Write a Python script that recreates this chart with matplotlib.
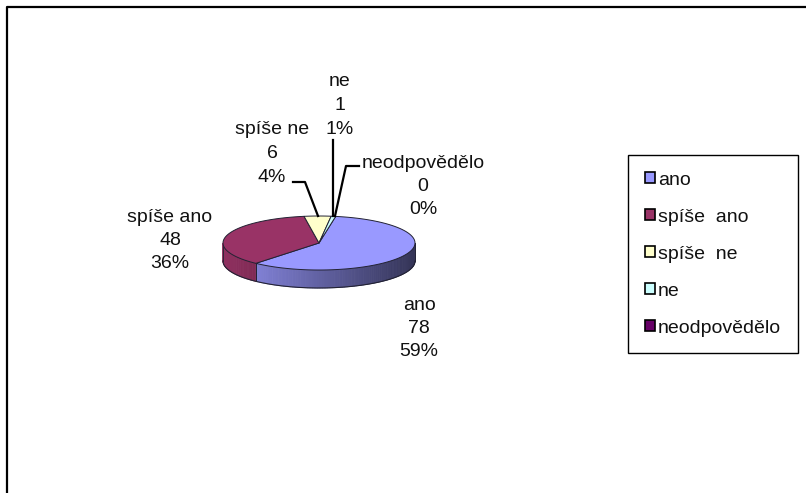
import numpy as np
import matplotlib
matplotlib.use('Agg')
import matplotlib.pyplot as plt
from matplotlib.patches import Polygon, Patch
from matplotlib.colors import to_rgb

# ---- data ----
categories = ['ano', 'spíše ano', 'spíše ne', 'ne', 'neodpovědělo']
legend_labels = ['ano', 'spíše  ano', 'spíše  ne', 'ne', 'neodpovědělo']
values = [78, 48, 6, 1, 0]
percent_labels = ['59%', '36%', '4%', '1%', '0%']
colors = ['#9999FF', '#993366', '#FFFFCC', '#CCFFFF', '#660066']

plt.rcParams['font.family'] = ['Liberation Sans', 'DejaVu Sans']
fig = plt.figure(figsize=(8.06, 4.93), dpi=100)
ax = fig.add_axes([0, 0, 1, 1])
ax.set_xlim(0, 806)
ax.set_ylim(493, 0)
ax.axis('off')

# chart frame (top and left edges visible)
ax.plot([7, 7, 806], [493, 7, 7], color='black', lw=1.6, solid_capstyle='butt')

# ---- 3D-look pie ----
cx, cy, a, b, depth = 319, 243, 96, 27, 18
start = 80.0
total = float(sum(values))


def pt(th):
    r = np.radians(th)
    return cx + a * np.cos(r), cy - b * np.sin(r)


angles = []
cur = start
for v in values:
    span = v / total * 360.0
    angles.append((cur - span, cur))
    cur -= span


def shade(col, th):
    f = 0.64 - 0.30 * np.cos(np.radians(th))
    f = min(max(f, 0.3), 1.0)
    r, g, bb = to_rgb(col)
    return (r * f, g * f, bb * f)


# side walls (front half)
for (lo, hi), col, v in zip(angles, colors, values):
    if v == 0:
        continue
    for k in (-720, -360, 0, 360):
        l = max(lo, -180 + k)
        h = min(hi, k)
        if h <= l:
            continue
        ths = np.linspace(l, h, max(2, int((h - l) / 1.5) + 2))
        for t1, t2 in zip(ths[:-1], ths[1:]):
            x1, y1 = pt(t1)
            x2, y2 = pt(t2)
            c = shade(col, (t1 + t2) / 2 - k)
            ax.add_patch(Polygon([(x1, y1), (x2, y2), (x2, y2 + depth), (x1, y1 + depth)],
                                 closed=True, facecolor=c, edgecolor=c, lw=0.6, zorder=2))
        for t in (l, h):
            x, y = pt(t)
            ax.plot([x, x], [y, y + depth], color='#222233', lw=0.6, zorder=3)

# side bottom outline
ths = np.linspace(-180, 0, 200)
xs, ys = pt(ths)
ax.plot(xs, ys + depth, color='#222233', lw=0.8, zorder=3)

# top faces
for (lo, hi), col, v in zip(angles, colors, values):
    if v == 0:
        continue
    ths = np.linspace(lo, hi, max(3, int((hi - lo) / 1.0) + 2))
    xs, ys = pt(ths)
    verts = [(cx, cy)] + list(zip(xs, ys))
    ax.add_patch(Polygon(verts, closed=True, facecolor=col, edgecolor='#222233',
                         lw=0.7, zorder=4, joinstyle='round'))

# ---- data labels ----
label_pos = {'ano': (419, 305), 'spíše ano': (170, 217), 'spíše ne': (272, 130),
             'ne': (340, 82), 'neodpovědělo': (423, 163)}
line_gap = 23.5
for cat, v, p in zip(categories, values, percent_labels):
    x, y = label_pos[cat]
    for i, s in enumerate([cat, str(v), p]):
        ax.text(x, y + i * line_gap, s, ha='center', va='center', fontsize=14,
                color='#111111', zorder=6)

# leader lines
ax.plot([293, 305, 318], [182, 182, 216], color='black', lw=1.6, zorder=5)
ax.plot([333, 333], [140, 216], color='black', lw=1.6, zorder=5)
ax.plot([359, 346, 335], [166, 166, 216], color='black', lw=1.6, zorder=5)

# ---- legend ----
handles = [Patch(facecolor=c, edgecolor='black', lw=1.2) for c in colors]
leg = ax.legend(handles, legend_labels, loc='upper left',
                bbox_to_anchor=(628 / 806, 1 - 155 / 493), bbox_transform=ax.transAxes,
                borderaxespad=0, frameon=True, fancybox=False, framealpha=1,
                edgecolor='black', handlelength=0.52, handleheight=0.52,
                handletextpad=0.17, labelspacing=1.03, borderpad=0.85, fontsize=14)
leg.get_frame().set_linewidth(1.0)
for t in leg.get_texts():
    t.set_color('#111111')

fig.savefig('out.png', dpi=100, facecolor='white')
